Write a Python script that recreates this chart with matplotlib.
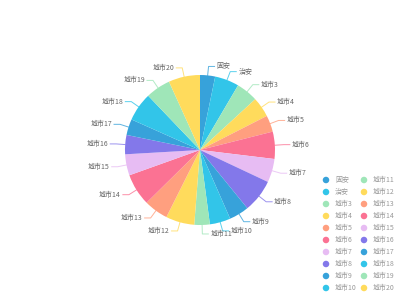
import numpy as np
import matplotlib
matplotlib.use('Agg')
import matplotlib.pyplot as plt

plt.rcParams['font.family'] = ['Noto Sans CJK SC', 'DejaVu Sans']

# data
names = ['固安', '治安'] + ['城市%d' % i for i in range(3, 21)]
values = [11.7, 18.8, 16.9, 15.6, 12.8, 21.1, 18.3, 25.7, 15.4, 16.1,
          12.0, 22.2, 18.8, 24.9, 16.4, 14.9, 12.4, 22.3, 19.3, 24.4]
palette = ['#37a2da', '#32c5e9', '#9fe6b8', '#ffdb5c',
           '#ff9f7f', '#fb7293', '#e7bcf3', '#8378ea']
colors = [palette[i % len(palette)] for i in range(len(names))]

fig = plt.figure(figsize=(4, 3), dpi=100)
ax = fig.add_axes([0, 0, 1, 1])

cx, cy, R = 200, 150, 75
ax.pie(values, colors=colors, startangle=90, counterclock=False,
       center=(cx, cy), radius=R, frame=True,
       wedgeprops=dict(linewidth=0))
ax.set_xlim(0, 400)
ax.set_ylim(0, 300)
ax.set_aspect('equal')
ax.axis('off')

# outside labels with leader lines
total = sum(values)
cum = 0
for name, v, c in zip(names, values, colors):
    mid = (cum + v / 2) / total * 2 * np.pi
    cum += v
    sx, sy = np.sin(mid), np.cos(mid)
    p0 = (cx + R * sx, cy + R * sy)
    p1 = (cx + (R + 9) * sx, cy + (R + 9) * sy)
    d = 1 if sx >= 0 else -1
    p2 = (p1[0] + 6 * d, p1[1])
    ax.plot([p0[0], p1[0], p2[0]], [p0[1], p1[1], p2[1]], color=c, lw=0.7, alpha=0.8)
    ax.text(p2[0] + 2 * d, p2[1], name, fontsize=5, color='#666666',
            ha='left' if d > 0 else 'right', va='center')

# legend, two columns
for i, (name, c) in enumerate(zip(names, colors)):
    col, row = divmod(i, 10)
    x = 326 + col * 38
    y = 300 - (180 + row * 12)
    ax.scatter([x], [y], s=22, color=c, edgecolors='none')
    ax.text(x + 9, y, name, fontsize=5, color='#999999', va='center', ha='left')

fig.savefig('out.png', dpi=100)
